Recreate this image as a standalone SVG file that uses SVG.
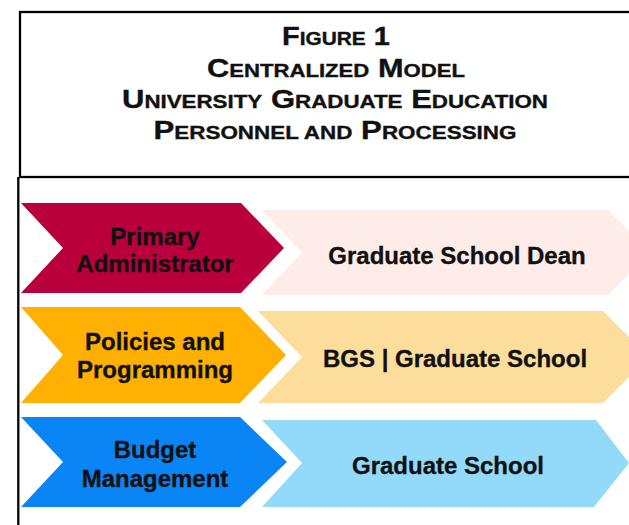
<svg xmlns="http://www.w3.org/2000/svg" width="629" height="525" viewBox="0 0 629 525">
<style>
.frame{fill:none;stroke:#000;stroke-width:2.3}
.t{font-family:"Liberation Sans",Arial,sans-serif;font-weight:bold;fill:#111;stroke:#111;stroke-width:0.35;text-anchor:middle}
.title{font-size:25px}
.sm{font-size:18px}
.lbl{font-size:24px}
</style>
<rect width="629" height="525" fill="#fff"/>
<g id="header">
<rect class="frame" x="20" y="12" width="660" height="165"/>
<line class="frame" x1="18.3" y1="177" x2="18.3" y2="530"/>
<text class="t title" x="336" y="45" textLength="108" lengthAdjust="spacingAndGlyphs">F<tspan class="sm">IGURE</tspan> 1</text>
<text class="t title" x="336" y="76.5" textLength="258" lengthAdjust="spacingAndGlyphs">C<tspan class="sm">ENTRALIZED</tspan> M<tspan class="sm">ODEL</tspan></text>
<text class="t title" x="335" y="108" textLength="426" lengthAdjust="spacingAndGlyphs">U<tspan class="sm">NIVERSITY</tspan> G<tspan class="sm">RADUATE</tspan> E<tspan class="sm">DUCATION</tspan></text>
<text class="t title" x="335" y="139" textLength="363" lengthAdjust="spacingAndGlyphs">P<tspan class="sm">ERSONNEL AND</tspan> P<tspan class="sm">ROCESSING</tspan></text>
</g>
<g id="row1-detail">
<path d="M262,210 H608 L650,252.5 L608,295 H262 L302,252.5 Z" fill="#FDECE7"/>
<text class="t lbl" x="457" y="264">Graduate School Dean</text>
</g>
<g id="row1-role">
<path d="M21,203 H241 L284,248 L241,293 H21 L63,248 Z" fill="#B9003C"/>
<text class="t lbl" x="155" y="245">Primary</text>
<text class="t lbl" x="155" y="272">Administrator</text>
</g>
<g id="row2-detail">
<path d="M258,311 H603 L649,357 L603,403 H258 L302,357 Z" fill="#FDDD9B"/>
<text class="t lbl" x="455" y="367">BGS | Graduate School</text>
</g>
<g id="row2-role">
<path d="M21,307 H240 L286,355 L240,403 H21 L63,355 Z" fill="#FFB000"/>
<text class="t lbl" x="155" y="350">Policies and</text>
<text class="t lbl" x="155" y="378">Programming</text>
</g>
<g id="row3-detail">
<path d="M262,420 H596 L629,463 L594,507 H262 L302,463 Z" fill="#93DAFA"/>
<text class="t lbl" x="448" y="473.5">Graduate School</text>
</g>
<g id="row3-role">
<path d="M21,417 H240 L287,462 L240,507 H21 L63,462 Z" fill="#0A85F5"/>
<text class="t lbl" x="155" y="458">Budget</text>
<text class="t lbl" x="155" y="487">Management</text>
</g>
</svg>
